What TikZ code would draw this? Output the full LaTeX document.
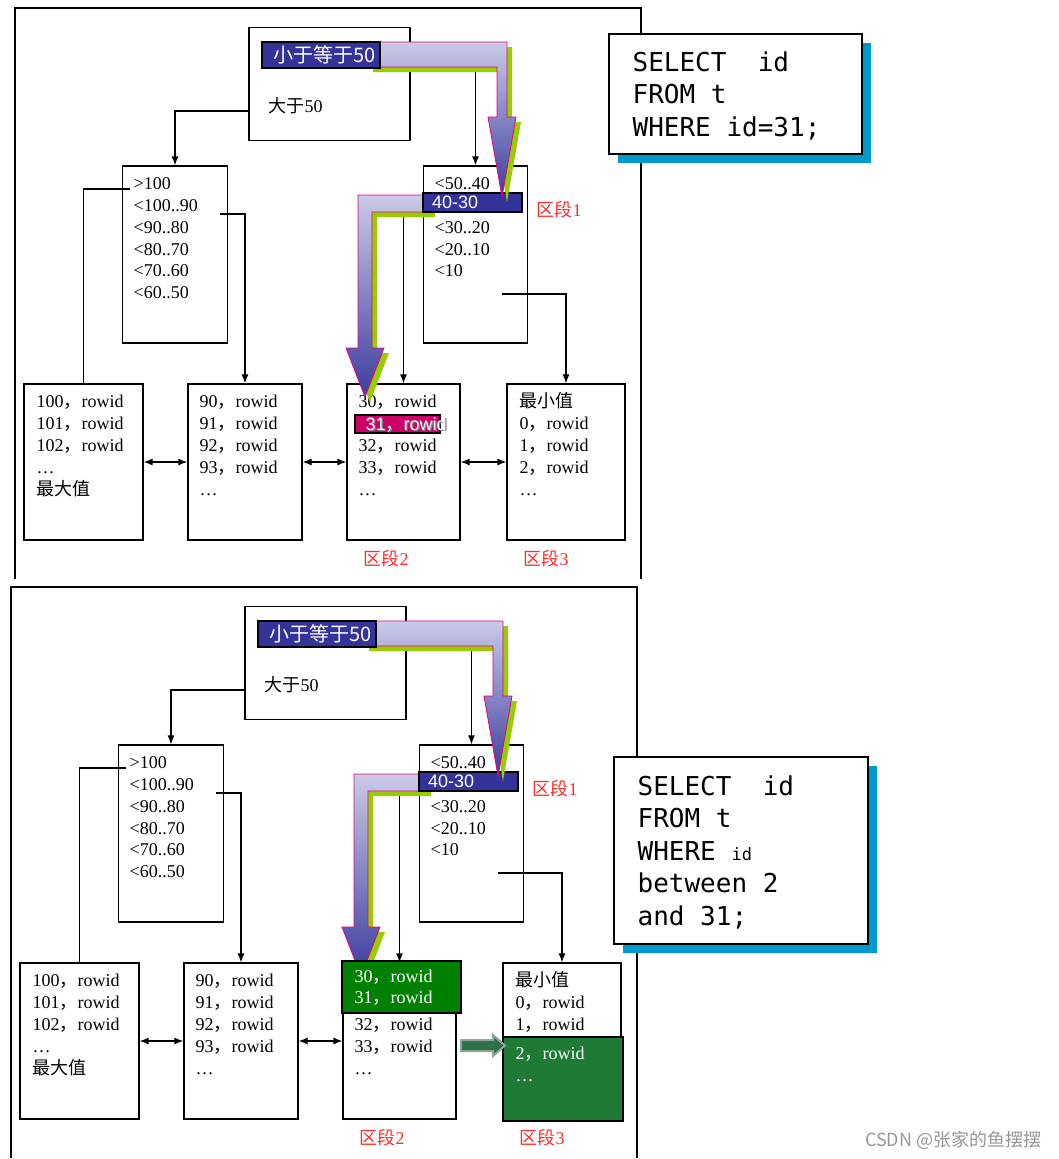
\documentclass[tikz,border=0pt]{standalone}
\usepackage{fontspec}
\setmainfont{Liberation Serif}
\setsansfont{Liberation Sans}
\newfontfamily\cjk{Noto Sans CJK SC}
\newfontfamily\sqlfont{DejaVu Sans Mono}
\usetikzlibrary{arrows.meta,shadows}
\definecolor{navy}{RGB}{51,51,153}
\definecolor{lavender}{RGB}{202,202,232}
\definecolor{tipblue}{RGB}{60,60,158}
\definecolor{bandpink}{RGB}{230,0,126}
\definecolor{shadowlime}{RGB}{153,204,0}
\definecolor{hotpink}{RGB}{204,0,102}
\definecolor{sqlblue}{RGB}{0,153,204}
\definecolor{segred}{RGB}{255,45,45}
\definecolor{greenone}{RGB}{0,128,0}
\definecolor{greentwo}{RGB}{30,122,52}
\definecolor{arrowgreen}{RGB}{46,112,72}
\definecolor{arrowgrey}{RGB}{140,166,152}
\definecolor{wmgrey}{RGB}{150,150,150}
\newcommand{\zhc}{{\cjk ，}}
\begin{document}
\begin{tikzpicture}[x = 1pt, y = -1pt, line width = 1.2pt,
                    box/.style = {draw, fill = white, inner sep = 0pt},
                    txt/.style = {anchor = base west, inner sep = 0pt, font = \fontsize{18}{20}\selectfont},
                    wtxt/.style = {txt, text = white},
                    seg/.style = {txt, text = segred},
                    hl/.style = {draw, fill = navy, text = white, inner ysep = 0pt, align = left},
                    sql/.style = {anchor = base west, inner sep = 0pt, font = \sqlfont\fontsize{26}{30}\selectfont},
                    sqlbox/.style = {draw, fill = white, drop shadow = {shadow xshift = 9pt, shadow yshift = -9pt, fill = sqlblue, opacity = 1}},
                    arr/.style = {-{Latex[length = 9pt, width = 7pt]}},
                    dblarr/.style = {{Latex[length = 9pt, width = 7pt]}-{Latex[length = 9pt, width = 7pt]}},
                    fat/.style = {draw = bandpink, line width = 0.8pt, top color = lavender, bottom color = tipblue,
                                  drop shadow = {shadow xshift = 5pt, shadow yshift = -5pt, fill = shadowlime, opacity = 1}}]
  \useasboundingbox (0,0) rectangle (1058,1159);

  % the two panels share the tree
  \foreach \p/\dx/\dy in {a/0/0, b/-4/579} {
    \begin{scope}[shift = {(\dx,\dy)}]
      \draw [line width = 1.3pt] (15,579) |- (641,8) -- (641,579);
      \node [box, minimum width = 161, minimum height = 113] (root\p) at (329.5,84) {};
      \node [box, minimum width = 105, minimum height = 177] (L1\p) at (175,254.5) {};
      \node [box, minimum width = 104, minimum height = 177] (R1\p) at (475.5,254.5) {};
      \node [box, minimum width = 119, minimum height = 156] (LA\p) at (83.5,462) {};
      \node [box, minimum width = 114, minimum height = 156] (LB\p) at (245,462) {};
      \node [box, minimum width = 113, minimum height = 156] (LC\p) at (403.5,462) {};
      \node [box, minimum width = 118, minimum height = 156] (LD\p) at (566,462) {};

      \node [txt] (gt\p) at (268,112) {{\cjk 大于}50};
      \foreach \t [count = \i] in {>100, <100..90, <90..80, <80..70, <70..60, <60..50}
        \node [txt] (L1\p-\i) at (133,167.8+21.8*\i) {\t};
      \foreach \t [count = \i] in {<50..40, , <30..20, <20..10, <10}
        \node [txt] (R1\p-\i) at (434,167.8+21.8*\i) {\t};
      \foreach \t [count = \i] in {100\zhc rowid, 101\zhc rowid, 102\zhc rowid, …, {\cjk 最大值}}
        \node [txt] (LA\p-\i) at (36,385+22*\i) {\t};
      \foreach \t [count = \i] in {90\zhc rowid, 91\zhc rowid, 92\zhc rowid, 93\zhc rowid, …}
        \node [txt] (LB\p-\i) at (199,385+22*\i) {\t};
      \foreach \t [count = \i from 3] in {32\zhc rowid, 33\zhc rowid, …}
        \node [txt] (LC\p-\i) at (358,385+22*\i) {\t};
      \foreach \t [count = \i] in {{\cjk 最小值}, 0\zhc rowid, 1\zhc rowid}
        \node [txt] (LD\p-\i) at (519,385+22*\i) {\t};

      \node [seg] (s1\p) at (536,216) {{\cjk 区段}1};
      \node [seg] (s2\p) at (363,565) {{\cjk 区段}2};
      \node [seg] (s3\p) at (523,565) {{\cjk 区段}3};

      \coordinate (p0\p) at (249,111);
      \coordinate (p1\p) at (130,189);
      \coordinate (p2\p) at (220,214);
      \coordinate (p3\p) at (502,294);
      \draw [arr] (p0\p) -| (L1\p.north);
      \draw [arr] (R1\p.north |- 0,72) -- (R1\p.north);
      \draw (p1\p) -| (LA\p.north);
      \draw [arr] (p2\p) -| (LB\p.north);
      \draw [arr] (LC\p.north |- 0,217) -- (LC\p.north);
      \draw [arr] (p3\p) -| (LD\p.north);
      \draw [dblarr] (LA\p) -- (LB\p);
      \draw [dblarr] (LB\p) -- (LC\p);
    \end{scope}
  }

  % upper panel: id=31
  \node [txt] (LCa-1) at (358,407) {30\zhc rowid};
  \node [txt] (LDa-4) at (519,473) {2\zhc rowid};
  \node [txt] (LDa-5) at (519,495) {…};
  \draw [dblarr] (LCa) -- (LDa);
  \node [hl, fill = hotpink, minimum width = 85, minimum height = 18] (h31) at (397.5,424) {};
  \node [txt, text = gray, font = \sffamily\fontsize{18}{18}\selectfont] (h31s) at (366.2,431.2) {31\zhc rowid};
  \node [wtxt, font = \sffamily\fontsize{18}{18}\selectfont] (h31t) at (365,430.5) {31\zhc rowid};

  % search path
  \foreach \p/\dx/\dy in {a/0/0, b/-4/579} {
    \begin{scope}[shift = {(\dx,\dy)}]
      \shadedraw [fat] (430,195) -- (358,195) -- (358,348) -- (346,348) -- (365,397) -- (384,348)
                       -- (372,348) -- (372,212) -- (430,212) -- cycle;
      \node [hl, minimum width = 99, minimum height = 19, inner xsep = 9pt, text width = 81pt,
             font = \sffamily\fontsize{18}{18}\selectfont] (k\p) at (472.5,202.5) {40-30};
      \shadedraw [fat] (368,42) -- (507,42) -- (507,117) -- (516,117) -- (502,197) -- (488,117)
                       -- (497,117) -- (497,67) -- (368,67) -- cycle;
      \node [hl, minimum width = 118, minimum height = 26, inner xsep = 11pt, text width = 96pt,
             font = \cjk\fontsize{20}{20}\selectfont] (t\p) at (321,55) {小于等于50};
    \end{scope}
  }

  % lower panel: between 2 and 31
  \draw [fill = greenone] (342,961) rectangle (461,1013);
  \node [wtxt] (LCb-1) at (354,982) {30\zhc rowid};
  \node [wtxt] (LCb-2) at (354,1003) {31\zhc rowid};
  \draw [fill = greentwo] (503,1037) rectangle (623,1121);
  \node [wtxt] (LDb-4) at (515,1059) {2\zhc rowid};
  \node [wtxt] (LDb-5) at (515,1081) {…};
  \draw [line width = 2pt, draw = arrowgrey, fill = arrowgreen] (461,1040) -- (493,1040) -- (493,1035)
        -- (505,1045.5) -- (493,1056) -- (493,1051) -- (461,1051) -- cycle;

  % queries
  \node [sqlbox, minimum width = 253, minimum height = 120] (qa) at (735.5,94) {};
  \foreach \t [count = \i] in {SELECT~~id, FROM t, WHERE id=31;}
    \node [sql] (qa-\i) at (632,38.5+32.5*\i) {\t};
  \node [sqlbox, minimum width = 254, minimum height = 187] (qb) at (741,850.5) {};
  \foreach \t [count = \i] in {SELECT~~id, FROM t, WHERE {\fontsize{17}{20}\selectfont id}, between 2, and 31;}
    \node [sql] (qb-\i) at (637,762.5+32.5*\i) {\t};

  \node [anchor = east, inner sep = 0pt, text = wmgrey, font = \cjk\fontsize{18}{18}\selectfont] (wm) at (1042,1140) {CSDN @张家的鱼摆摆};
\end{tikzpicture}
\end{document}
